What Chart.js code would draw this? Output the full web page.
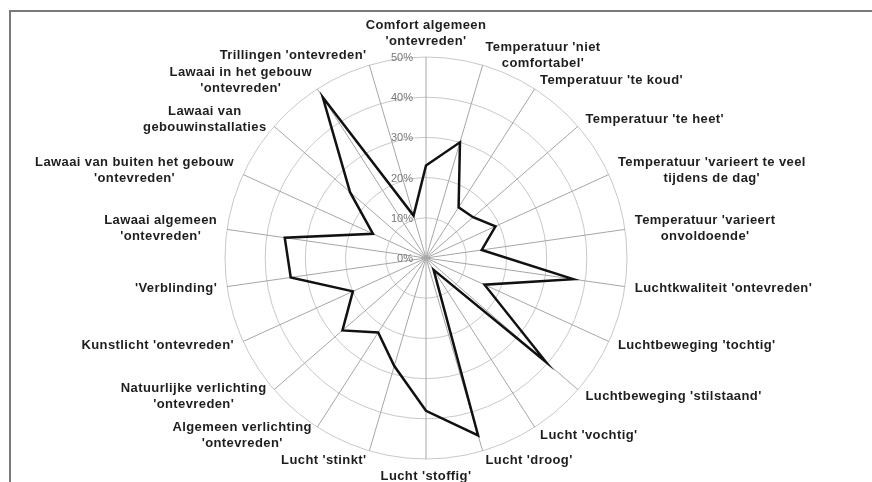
<!DOCTYPE html>
<html>
<head>
<meta charset="utf-8">
<script src="https://cdn.jsdelivr.net/npm/chart.js@4/dist/chart.umd.min.js"></script>
<style>
  body { margin: 0; background: #fff; }
  #wrap { width: 872px; height: 482px; }
</style>
</head>
<body>
<div id="wrap"><canvas id="radar" width="872" height="482"></canvas></div>
<script>
// categorieen (met de klok mee, vanaf boven)
var categorieen = [
    ["Comfort algemeen", "'ontevreden'"],
    ["Temperatuur 'niet", "comfortabel'"],
    ["Temperatuur 'te koud'"],
    ["Temperatuur 'te heet'"],
    ["Temperatuur 'varieert te veel", "tijdens de dag'"],
    ["Temperatuur 'varieert", "onvoldoende'"],
    ["Luchtkwaliteit 'ontevreden'"],
    ["Luchtbeweging 'tochtig'"],
    ["Luchtbeweging 'stilstaand'"],
    ["Lucht 'vochtig'"],
    ["Lucht 'droog'"],
    ["Lucht 'stoffig'"],
    ["Lucht 'stinkt'"],
    ["Algemeen verlichting", "'ontevreden'"],
    ["Natuurlijke verlichting", "'ontevreden'"],
    ["Kunstlicht 'ontevreden'"],
    ["'Verblinding'"],
    ["Lawaai algemeen", "'ontevreden'"],
    ["Lawaai van buiten het gebouw", "'ontevreden'"],
    ["Lawaai van", "gebouwinstallaties"],
    ["Lawaai in het gebouw", "'ontevreden'"],
    ["Trillingen 'ontevreden'"]
];

// percentage ontevreden
var percentages = [23, 30, 15, 15.5, 19, 14, 37, 16, 39.5, 3.5, 46, 38, 28, 22, 27.5, 20, 34, 35.5, 14.5, 25, 47.5, 11];

var tickWaarden = [0, 10, 20, 30, 40, 50];
var tickLabels = ['0%', '10%', '20%', '30%', '40%', '50%'];

// eigen tekenwerk: rand, labels rond de cirkel en de procenten langs de as
var extraTekenwerk = {
    id: 'extraTekenwerk',
    afterDraw: function (chart) {
        var ctx = chart.ctx;
        var r = chart.scales.r;
        ctx.save();

        // kader
        ctx.strokeStyle = '#7a7a7a';
        ctx.lineWidth = 2;
        ctx.beginPath();
        ctx.moveTo(10, 482);
        ctx.lineTo(10, 11);
        ctx.lineTo(872, 11);
        ctx.stroke();

        // procenten
        ctx.font = '11px "Liberation Sans", Arial, sans-serif';
        ctx.fillStyle = '#777777';
        ctx.textAlign = 'right';
        ctx.textBaseline = 'middle';
        tickWaarden.forEach(function (v, i) {
            var d = r.getDistanceFromCenterForValue(v);
            ctx.fillText(tickLabels[i], r.xCenter - 13, r.yCenter - d + 1);
        });

        // categorie labels
        ctx.font = 'bold 13px "Liberation Sans", Arial, sans-serif';
        ctx.letterSpacing = '0.4px';
        ctx.fillStyle = '#1e1e1e';
        ctx.textAlign = 'center';
        var lh = 16;
        var n = categorieen.length;
        categorieen.forEach(function (lines, i) {
            var p = r.getPointPosition(i, r.drawingArea + 10);
            var w = 0;
            lines.forEach(function (t) { w = Math.max(w, ctx.measureText(t).width); });
            var h = lines.length * lh;
            var cx, top;
            if (i === 0) {
                cx = r.xCenter;
                top = r.yCenter - r.drawingArea - 8 - h;
            } else if (i === n / 2) {
                cx = r.xCenter;
                top = r.yCenter + r.drawingArea + 9;
            } else if (p.x > r.xCenter) {
                cx = p.x + w / 2;
                top = p.y - h / 2;
            } else {
                cx = p.x - w / 2;
                top = p.y - h / 2;
            }
            lines.forEach(function (t, k) {
                ctx.fillText(t, cx, top + lh * k + lh / 2);
            });
        });
        ctx.restore();
    }
};

var ctx = document.getElementById('radar').getContext('2d');
var grafiek = new Chart(ctx, {
    type: 'radar',
    data: {
        labels: categorieen,
        datasets: [{
            label: 'Ontevreden',
            data: percentages,
            borderColor: '#111111',
            borderWidth: 2.5,
            backgroundColor: 'rgba(0,0,0,0)',
            fill: false,
            pointRadius: 0,
            tension: 0
        }]
    },
    options: {
        responsive: false,
        animation: false,
        devicePixelRatio: 1,
        layout: {
            padding: { left: 225, right: 244, top: 57, bottom: 22 }
        },
        scales: {
            r: {
                min: 0,
                max: 50,
                ticks: { stepSize: 10, display: false },
                grid: { circular: true, color: '#c8c8c8', lineWidth: 1 },
                angleLines: { color: '#a6a6a6', lineWidth: 1 },
                pointLabels: { display: false }
            }
        },
        plugins: {
            legend: { display: false },
            tooltip: { enabled: false }
        }
    },
    plugins: [extraTekenwerk]
});
</script>
</body>
</html>
